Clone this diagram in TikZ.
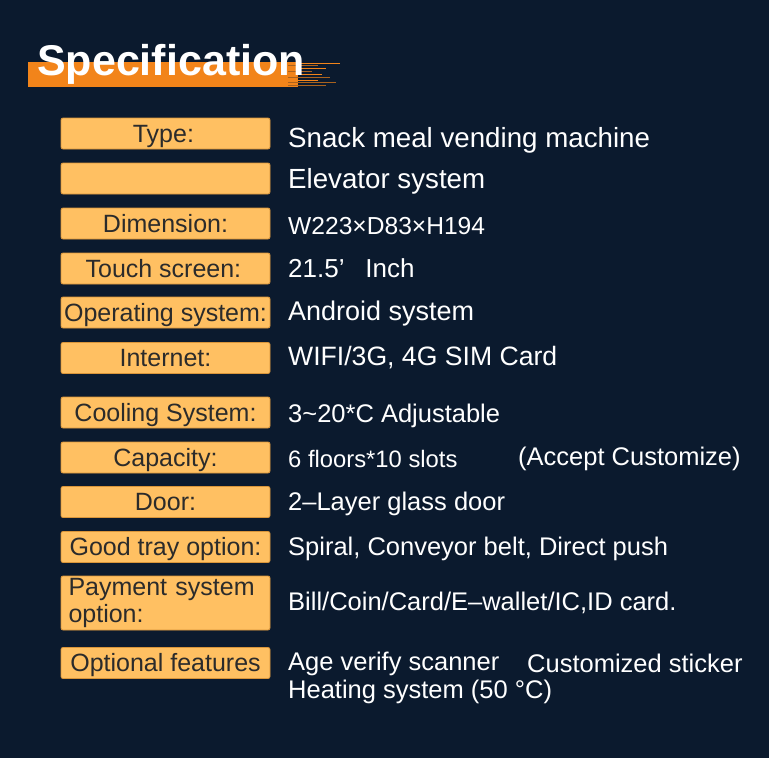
\documentclass[tikz,border=0pt]{standalone}
\usepackage{fontspec}
\setmainfont{Liberation Sans}
\usetikzlibrary{positioning}
\definecolor{navy}{HTML}{0B1A2E}
\definecolor{stripe}{HTML}{F2841A}
\definecolor{boxfill}{HTML}{FFC062}
\definecolor{boxline}{HTML}{D9953A}
\definecolor{labeltext}{HTML}{2B2B2B}
\definecolor{streak}{HTML}{A9621E}
\tikzset{
	labelbox/.style={draw=boxline, line width=0.8pt, fill=boxfill, rounded corners=2pt,
		minimum width=209, minimum height=31, inner sep=0pt, text=labeltext,
		text height=19pt, text depth=2pt,
		font=\fontsize{25}{27}\selectfont},
	spectext/.style={anchor=base west, text=white, inner sep=0pt,
		font=\fontsize{25.5}{27}\selectfont}
}

\begin{document}
\begin{tikzpicture}[x=1pt,y=-1pt]
		\fill[navy] (0,0) rectangle (769,758);
		\useasboundingbox (0,0) rectangle (769,758);
		% title with brush stroke
		\fill[stripe] (28,62) rectangle (298,87);
		\foreach \y/\len/\c in {63/340/stripe,65/318/streak,68/326/stripe,71/312/streak,
			74/322/stripe,77/330/streak,80/318/stripe,82/336/streak,85/326/streak}
			\draw[\c, line width=1pt] (288,\y) -- (\len,\y);
		\node[anchor=base west, text=white, inner sep=0pt,
			font=\fontsize{43}{45}\selectfont\bfseries] (title) at (37,75) {Specification};
		% labels
		\node[labelbox] (type) at (165.5,133.5) {Type:\,};
		\node[labelbox] (blank) at (165.5,178.5) {};
		\node[labelbox] (dim) at (165.5,223.5) {Dimension:};
		\node[labelbox] (touch) at (165.5,268.5) {Touch screen:\,};
		\node[labelbox] (os) at (165.5,312.5) {Operating system:};
		\node[labelbox] (net) at (165.5,358) {Internet:};
		\node[labelbox] (cool) at (165.5,412.5) {Cooling System:};
		\node[labelbox] (cap) at (165.5,457.5) {Capacity:};
		\node[labelbox] (door) at (165.5,502) {Door:};
		\node[labelbox] (tray) at (165.5,547) {Good tray option:};
		\node[labelbox, minimum height=54, text height=, text depth=, align=left,
			text width=194, font=\fontsize{25}{27}\selectfont] (pay) at (165.5,603)
			{Payment system\\option:};
		\node[labelbox] (feat) at (165.5,663) {Optional features};
		% values
		\node[spectext, font=\fontsize{27.7}{29}\selectfont] (typev) at (288,147) {Snack meal vending machine};
		\node[spectext, font=\fontsize{27.7}{29}\selectfont] (blankv) at (288,188) {Elevator system};
		\node[spectext, font=\fontsize{24.6}{26}\selectfont] (dimv) at (288,234) {W223×D83×H194};
		\node[spectext, font=\fontsize{26}{28}\selectfont] (touchv) at (288,277) {21.5’\hspace{0.8em}Inch};
		\node[spectext, font=\fontsize{27}{29}\selectfont] (osv) at (288,320) {Android system};
		\node[spectext, font=\fontsize{26.6}{28}\selectfont] (netv) at (288,365) {WIFI/3G, 4G SIM Card};
		\node[spectext] (coolv) at (288,422) {3\textasciitilde 20*C Adjustable};
		\node[spectext, font=\fontsize{23.8}{26}\selectfont] (capv) at (288,467) {6 floors*10 slots};
		\node[spectext] (capw) at (518,465) {(Accept Customize)};
		\node[spectext] (doorv) at (288,510) {2–Layer glass door};
		\node[spectext] (trayv) at (288,555) {Spiral, Conveyor belt, Direct push};
		\node[spectext] (payv) at (288,610) {Bill/Coin/Card/E–wallet/IC,ID card.};
		\node[spectext] (featv) at (288,670) {Age verify scanner};
		\node[spectext] (featw) at (527,672) {Customized sticker};
		\node[spectext] (featx) at (288,698) {Heating system (50 °C)};
\end{tikzpicture}
\end{document}
